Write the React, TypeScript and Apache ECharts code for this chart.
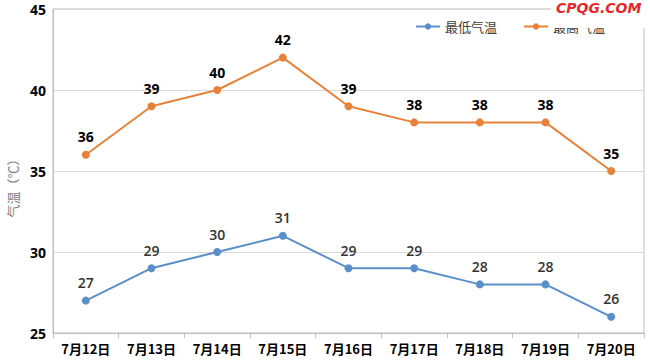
import React, { useEffect, useRef } from "react";
import * as echarts from "echarts";

const categories = ["7月12日", "7月13日", "7月14日", "7月15日", "7月16日", "7月17日", "7月18日", "7月19日", "7月20日"];
const lowTemps = [27, 29, 30, 31, 29, 29, 28, 28, 26];
const highTemps = [36, 39, 40, 42, 39, 38, 38, 38, 35];
const seriesNames = ["最低气温", "最高气温"];
const watermark = "CPQG.COM";

export default function App() {
  const ref = useRef<HTMLDivElement>(null);
  useEffect(() => {
    if (!ref.current) return;
    const chart = echarts.init(ref.current, null, { renderer: "svg" });
    const labelStyle = { show: true, position: "top", distance: 7, color: "#000", fontWeight: "bold", fontSize: 14, fontFamily: "Open Sans" };
    chart.setOption({
      animation: false,
      grid: { left: 53, right: 6, top: 9, bottom: 27, show: true, borderColor: "#bfbfbf", borderWidth: 1, outerBoundsMode: "none" },
      legend: {
        left: 410, top: 15, itemWidth: 24, itemHeight: 8, itemGap: 26,
        textStyle: { fontSize: 13, color: "#404040", fontFamily: "Noto Sans CJK SC" },
        data: seriesNames,
      },
      xAxis: {
        type: "category", data: categories, boundaryGap: true,
        axisLine: { lineStyle: { color: "#bfbfbf" } },
        axisTick: { show: true, length: 5, interval: 0, lineStyle: { color: "#bfbfbf" } },
        axisLabel: { color: "#000", fontWeight: "bold", fontSize: 13, margin: 9, interval: 0, fontFamily: "Noto Sans CJK SC" },
      },
      yAxis: {
        type: "value", min: 25, max: 45, interval: 5,
        name: "气温（℃）", nameLocation: "middle", nameGap: 34, nameRotate: 90,
        nameTextStyle: { color: "#7f7f7f", fontSize: 13, fontFamily: "Noto Sans CJK SC", padding: [0, 0, 0, -28] },
        axisLine: { show: true, lineStyle: { color: "#bfbfbf" } },
        axisTick: { show: false },
        splitLine: { lineStyle: { color: "#d9d9d9" } },
        axisLabel: { color: "#000", fontWeight: "bold", fontSize: 14, margin: 7, fontFamily: "Open Sans" },
      },
      series: [
        {
          name: seriesNames[0], type: "line", data: lowTemps,
          symbol: "circle", symbolSize: 8,
          itemStyle: { color: "#5B8FC9" }, lineStyle: { width: 2, color: "#5B8FC9" },
          label: { ...labelStyle, fontWeight: 600, color: "#333" },
        },
        {
          name: seriesNames[1], type: "line", data: highTemps,
          symbol: "circle", symbolSize: 8,
          itemStyle: { color: "#E8823A" }, lineStyle: { width: 2, color: "#E8823A" },
          label: labelStyle,
        },
      ],
      graphic: [
        { type: "rect", left: 551, top: 0, shape: { width: 99, height: 28 }, style: { fill: "#fff" }, z: 100 },
        {
          type: "text", left: 556, top: 1, z: 101,
          style: { text: watermark, fill: "#e8262a", fontSize: 14, fontWeight: "bold", fontStyle: "italic", fontFamily: "DejaVu Sans" },
        },
      ],
    });
    return () => chart.dispose();
  }, []);
  return <div ref={ref} style={{ position: "fixed", left: 0, top: 0, width: 650, height: 360, background: "#fff" }} />;
}
